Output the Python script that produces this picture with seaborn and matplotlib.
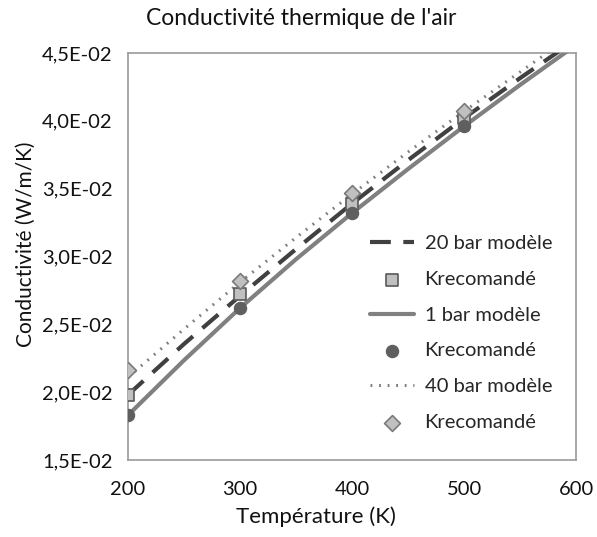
import numpy as np
import pandas as pd
import matplotlib
matplotlib.use("Agg")
import matplotlib.pyplot as plt
import seaborn as sns
from matplotlib.ticker import FuncFormatter, MultipleLocator

# ---------------------------------------------------------
# données (conductivité en W/m/K)
# ---------------------------------------------------------
t_model = [200, 250, 300, 350, 400, 450, 500, 550, 600]
k_1bar_model = [1.83e-2, 2.235e-2, 2.62e-2, 2.98e-2, 3.32e-2, 3.645e-2, 3.96e-2, 4.265e-2, 4.56e-2]
k_20bar_model = [1.98e-2, 2.355e-2, 2.71e-2, 3.055e-2, 3.39e-2, 3.71e-2, 4.02e-2, 4.315e-2, 4.60e-2]
k_40bar_model = [2.11e-2, 2.465e-2, 2.81e-2, 3.14e-2, 3.46e-2, 3.77e-2, 4.07e-2, 4.36e-2, 4.65e-2]

t_reco = [200, 300, 400, 500]
k_1bar_reco = [1.83e-2, 2.62e-2, 3.32e-2, 3.96e-2]
k_20bar_reco = [1.98e-2, 2.72e-2, 3.39e-2, 4.02e-2]
k_40bar_reco = [2.16e-2, 2.82e-2, 3.47e-2, 4.07e-2]

df_model = pd.DataFrame({"T": t_model, "k1": k_1bar_model, "k20": k_20bar_model, "k40": k_40bar_model})
df_reco = pd.DataFrame({"T": t_reco, "k1": k_1bar_reco, "k20": k_20bar_reco, "k40": k_40bar_reco})

# ---------------------------------------------------------
# figure
# ---------------------------------------------------------
sns.set_style("white")
plt.rcParams["font.family"] = ["Lato", "DejaVu Sans"]

fig = plt.figure(figsize=(5.97, 5.37), dpi=100)
ax = fig.add_axes([0.2144, 0.1434, 0.7506, 0.7579])

sns.lineplot(data=df_model, x="T", y="k20", ax=ax, color="#404040", lw=3,
             label="20 bar modèle", zorder=3)
ax.lines[-1].set_dashes([5, 3])
sns.scatterplot(data=df_reco, x="T", y="k20", ax=ax, marker="s", s=80,
                color="#c0c0c0", edgecolor="#595959", linewidth=1.2,
                label="Krecomandé", zorder=4)
sns.lineplot(data=df_model, x="T", y="k1", ax=ax, color="#808080", lw=3,
             label="1 bar modèle", zorder=3)
sns.scatterplot(data=df_reco, x="T", y="k1", ax=ax, marker="o", s=75,
                color="#5f5f5f", edgecolor="#5f5f5f", linewidth=1,
                label="Krecomandé", zorder=4)
sns.lineplot(data=df_model, x="T", y="k40", ax=ax, color="#808080", lw=2.2,
             label="40 bar modèle", zorder=3)
ax.lines[-1].set_dashes([0.6, 2.2])
sns.scatterplot(data=df_reco, x="T", y="k40", ax=ax, marker="D", s=65,
                color="#c0c0c0", edgecolor="#7a7a7a", linewidth=1.2,
                label="Krecomandé", zorder=5)

ax.set_xlim(200, 600)
ax.set_ylim(1.5e-2, 4.5e-2)
ax.xaxis.set_major_locator(MultipleLocator(100))
ax.yaxis.set_major_locator(MultipleLocator(0.5e-2))
ax.yaxis.set_major_formatter(FuncFormatter(lambda v, p: f"{v:.1E}".replace(".", ",")))

for s in ax.spines.values():
    s.set_color("#9a9a9a")
    s.set_linewidth(1.2)
ax.tick_params(axis="both", direction="out", length=5, width=1.2, color="#9a9a9a",
               labelsize=14.5, labelcolor="#111111", pad=6)
ax.tick_params(axis="x", pad=10)

fig.suptitle("Conductivité thermique de l'air", x=0.505, y=0.985, fontsize=16.5,
             color="#111111")
ax.set_xlabel("Température (K)", fontsize=16, color="#111111")
ax.xaxis.set_label_coords(0.42, -0.115)
ax.set_ylabel("Conductivité (W/m/K)", fontsize=15, color="#111111")
ax.yaxis.set_label_coords(-0.205, 0.53)

handles, labels = ax.get_legend_handles_labels()
ax.legend(handles, labels, loc="center left", bbox_to_anchor=(0.5, 0.312), frameon=False,
          fontsize=14.5, labelspacing=0.93, handlelength=2.2, handletextpad=0.5)

fig.savefig("out.png", dpi=100)
